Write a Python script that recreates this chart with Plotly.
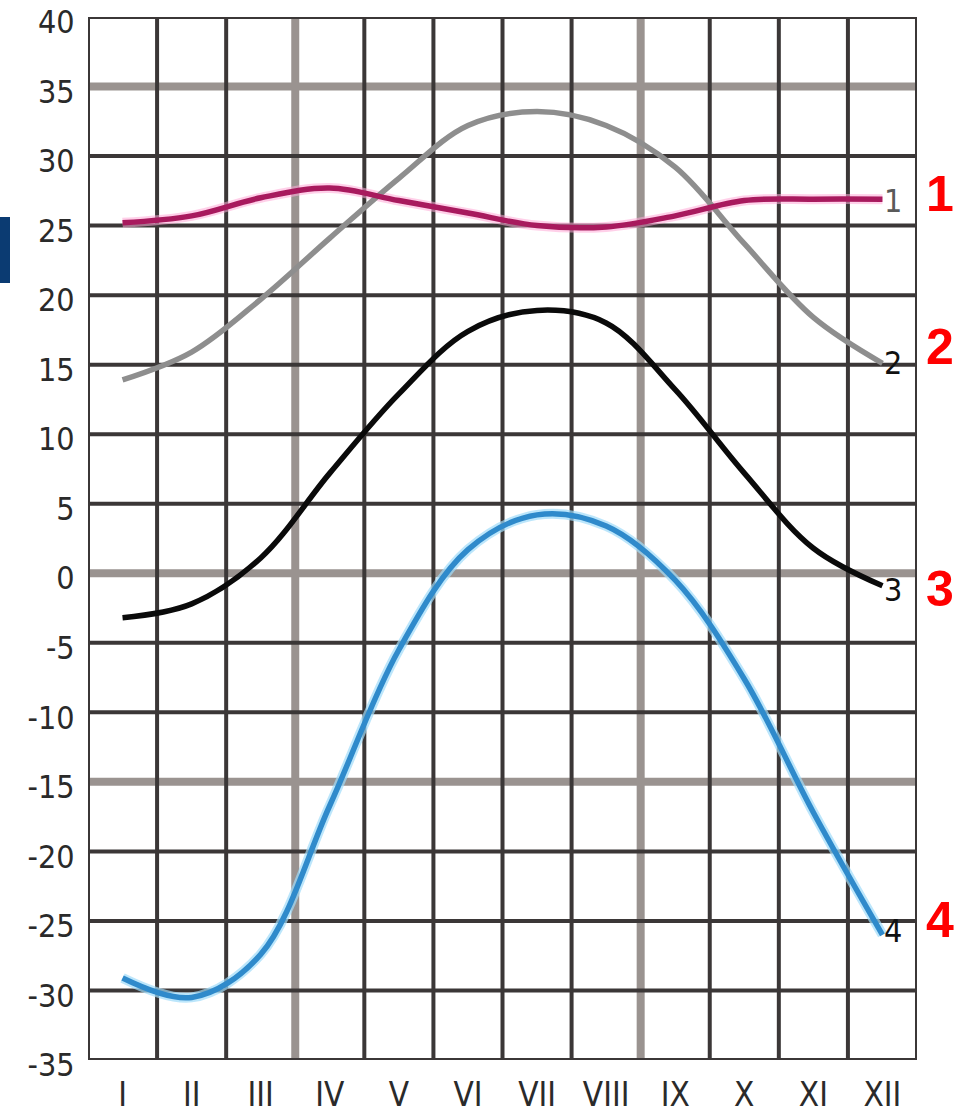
import plotly.graph_objects as go

months = [1, 2, 3, 4, 5, 6, 7, 8, 9, 10, 11, 12]
month_labels = ["I", "II", "III", "IV", "V", "VI", "VII", "VIII", "IX", "X", "XI", "XII"]

series_1 = [25.2, 25.7, 27.0, 27.7, 26.8, 25.9, 25.0, 24.9, 25.7, 26.8, 26.9, 26.9]
series_2 = [13.9, 15.9, 19.7, 24.1, 28.4, 32.2, 33.2, 32.2, 29.2, 23.7, 18.4, 15.1]
series_3 = [-3.2, -2.2, 1.1, 7.2, 12.9, 17.4, 18.9, 18.0, 13.2, 7.2, 1.8, -0.9]
series_4 = [-29.1, -30.5, -27.4, -16.7, -5.5, 1.7, 4.2, 3.4, -0.5, -7.6, -17.2, -26.0]

y_ticks = [40, 35, 30, 25, 20, 15, 10, 5, 0, -5, -10, -15, -20, -25, -30, -35]
series_names = ["1", "2", "3", "4"]
label_y_small = [26.8, 15.1, -1.2, -25.7]
label_y_red = [27.3, 16.3, -1.1, -24.9]

FONT = "Liberation Sans Narrow, Arial Narrow, DejaVu Sans Condensed, Liberation Sans, Arial, sans-serif"
DARK = "#3b3737"
GREY = "#9a9390"

W, H = 961, 1115
ML, MR, MT, MB = 88, 44, 17, 55
PW, PH = W - ML - MR, H - MT - MB

fig = go.Figure()

# halos
fig.add_trace(go.Scatter(x=months, y=series_1, mode="lines", line=dict(color="rgba(255,170,215,0.55)", width=10, shape="spline"), hoverinfo="skip", showlegend=False))
fig.add_trace(go.Scatter(x=months, y=series_4, mode="lines", line=dict(color="rgba(160,220,250,0.7)", width=10, shape="spline"), hoverinfo="skip", showlegend=False))

fig.add_trace(go.Scatter(x=months, y=series_2, mode="lines", name="2", line=dict(color="#8e8e8e", width=5.5, shape="spline"), showlegend=False))
fig.add_trace(go.Scatter(x=months, y=series_1, mode="lines", name="1", line=dict(color="#a81a5e", width=5.5, shape="spline"), showlegend=False))
fig.add_trace(go.Scatter(x=months, y=series_3, mode="lines", name="3", line=dict(color="#0a0a0a", width=5.5, shape="spline"), showlegend=False))
fig.add_trace(go.Scatter(x=months, y=series_4, mode="lines", name="4", line=dict(color="#2f8acb", width=5.5, shape="spline"), showlegend=False))

shapes = []
x_lines = [m - 0.5 for m in months] + [12.5]
grey_x = [3.5, 8.5]
grey_y = [35, 0, -15]
for gx in grey_x:
    shapes.append(dict(type="line", xref="x", yref="y", x0=gx, x1=gx, y0=-35, y1=40, line=dict(color=GREY, width=8), layer="below"))
for gy in grey_y:
    shapes.append(dict(type="line", xref="x", yref="y", x0=0.5, x1=12.5, y0=gy, y1=gy, line=dict(color=GREY, width=8), layer="below"))
for xv in x_lines:
    if xv in grey_x:
        continue
    shapes.append(dict(type="line", xref="x", yref="y", x0=xv, x1=xv, y0=-35, y1=40, line=dict(color=DARK, width=4), layer="below"))
for yv in y_ticks:
    if yv in grey_y:
        continue
    shapes.append(dict(type="line", xref="x", yref="y", x0=0.5, x1=12.5, y0=yv, y1=yv, line=dict(color=DARK, width=4), layer="below"))

# dark blue artifact at the left edge
shapes.append(dict(type="rect", xref="paper", yref="paper", x0=-ML / PW, x1=(10 - ML) / PW,
                   y0=1 - (217 - MT) / PH, y1=1 - (283 - MT) / PH, line=dict(width=0), fillcolor="#0b3b72", layer="above"))

annotations = []
for name, ys, yr in zip(series_names, label_y_small, label_y_red):
    annotations.append(dict(x=12.15, y=ys, xref="x", yref="y", text=name, showarrow=False, xanchor="center",
                            font=dict(family=FONT, size=32, color="#5a5a5a" if name == "1" else "#111111")))
    annotations.append(dict(x=(940 - ML) / PW, y=yr, xref="paper", yref="y", text="<b>" + name + "</b>", showarrow=False,
                            xanchor="center", yanchor="middle",
                            font=dict(family="Liberation Sans, Arial, sans-serif", size=50, color="#ff0000")))

fig.update_layout(
    width=W, height=H,
    margin=dict(l=ML, r=MR, t=MT, b=MB, autoexpand=False),
    paper_bgcolor="white", plot_bgcolor="white",
    shapes=shapes, annotations=annotations,
    xaxis=dict(range=[0.5, 12.5], tickvals=months, ticktext=month_labels, showgrid=False, zeroline=False,
               ticks="outside", ticklen=5, tickcolor="rgba(0,0,0,0)", automargin=False, ticklabeloverflow="allow",
               tickfont=dict(family=FONT, size=33, color="#2a2a2a"), showline=False, fixedrange=True),
    yaxis=dict(range=[-35, 40], tickvals=y_ticks, ticktext=[str(v) for v in y_ticks], showgrid=False, zeroline=False,
               ticks="outside", ticklen=6, tickcolor="rgba(0,0,0,0)", automargin=False, ticklabeloverflow="allow",
               ticklabelshift=5,
               tickfont=dict(family=FONT, size=32, color="#2a2a2a"), showline=False, fixedrange=True),
)

fig.write_html("out.html", config={"displayModeBar": False},
               post_script="document.body.style.margin='0';document.body.style.overflow='hidden';")
